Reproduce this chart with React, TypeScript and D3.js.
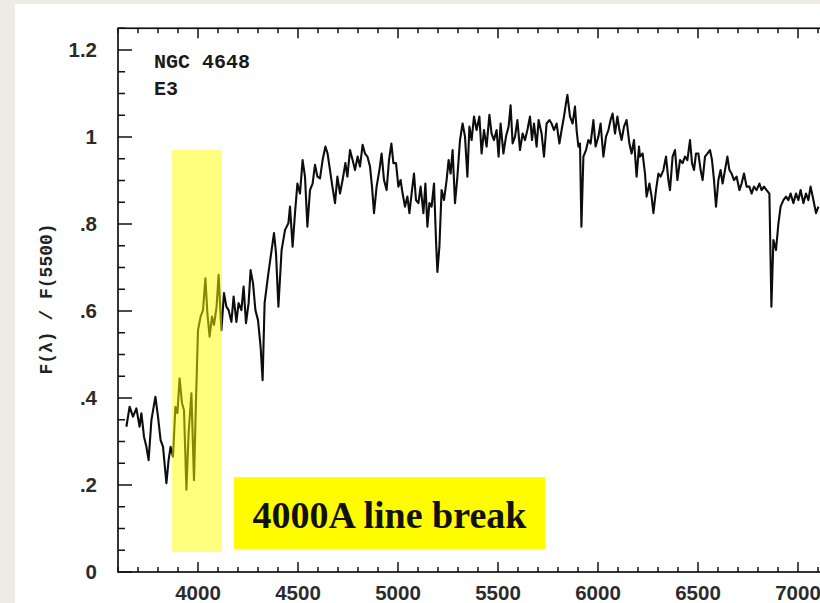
import * as d3 from "d3"

// spectrum of NGC 4648 (E3): wavelength (A) and F(lambda)/F(5500)
const waveA = [3642, 3658, 3675, 3692, 3708, 3717, 3730, 3742, 3753, 3767, 3787, 3800, 3813, 3825, 3842, 3853, 3863, 3875, 3887, 3897, 3908, 3920, 3930, 3942, 3953, 3967, 3980, 3990, 4000, 4013, 4025, 4037, 4047, 4058, 4070, 4080, 4093, 4103, 4117, 4130, 4142, 4153, 4167, 4178, 4192, 4203, 4217, 4228, 4240, 4253, 4263, 4275, 4287, 4300, 4313, 4323, 4333]
const fluxA = [0.334, 0.380, 0.357, 0.376, 0.334, 0.365, 0.311, 0.288, 0.257, 0.349, 0.403, 0.357, 0.303, 0.288, 0.204, 0.257, 0.288, 0.265, 0.380, 0.365, 0.445, 0.388, 0.372, 0.189, 0.319, 0.411, 0.211, 0.395, 0.556, 0.587, 0.602, 0.675, 0.594, 0.541, 0.587, 0.568, 0.610, 0.683, 0.556, 0.641, 0.610, 0.602, 0.575, 0.633, 0.575, 0.618, 0.602, 0.656, 0.572, 0.618, 0.694, 0.664, 0.602, 0.579, 0.518, 0.441, 0.618]

const waveB = [4352, 4368, 4380, 4390, 4402, 4418, 4435, 4452, 4460, 4473, 4485, 4497, 4510, 4523, 4535, 4547, 4560, 4573, 4585, 4597, 4610, 4623, 4637, 4648, 4660, 4672, 4685, 4697, 4710, 4723, 4737, 4747, 4760, 4773, 4785, 4798, 4810, 4823, 4835, 4847, 4860, 4870, 4880, 4893, 4907, 4918, 4930, 4943, 4955, 4967, 4977, 4990, 5002, 5013, 5023, 5035, 5047, 5057, 5068, 5080, 5090, 5102, 5113, 5127, 5137, 5147, 5157, 5168, 5180, 5190, 5197, 5207, 5218, 5230, 5243, 5253, 5263, 5273, 5285, 5297, 5310, 5323, 5335, 5347, 5357]
const fluxB = [0.687, 0.740, 0.779, 0.733, 0.610, 0.740, 0.786, 0.802, 0.840, 0.748, 0.825, 0.893, 0.870, 0.947, 0.909, 0.794, 0.878, 0.893, 0.936, 0.909, 0.905, 0.947, 0.978, 0.962, 0.924, 0.886, 0.848, 0.909, 0.870, 0.901, 0.940, 0.909, 0.970, 0.947, 0.924, 0.955, 0.932, 0.982, 0.962, 0.955, 0.932, 0.886, 0.825, 0.886, 0.924, 0.962, 0.901, 0.878, 0.947, 0.985, 0.940, 0.940, 0.886, 0.901, 0.870, 0.840, 0.863, 0.825, 0.870, 0.916, 0.855, 0.848, 0.886, 0.825, 0.893, 0.794, 0.848, 0.840, 0.893, 0.763, 0.690, 0.748, 0.878, 0.855, 0.901, 0.947, 0.916, 0.970, 0.848, 0.909, 0.993, 1.031, 1.001, 0.909, 1.024]

const waveC = [5368, 5380, 5393, 5407, 5418, 5430, 5443, 5457, 5468, 5480, 5493, 5503, 5513, 5527, 5540, 5553, 5563, 5573, 5585, 5597, 5610, 5623, 5635, 5647, 5660, 5670, 5680, 5693, 5703, 5718, 5730, 5743, 5757, 5768, 5780, 5793, 5807, 5818, 5830, 5840, 5847, 5860, 5873, 5885, 5893, 5902, 5910, 5917, 5927, 5940, 5952, 5963, 5977, 5988, 6002, 6013, 6027, 6040, 6052, 6063, 6073, 6085, 6097, 6107, 6118, 6130, 6143, 6157, 6168, 6180, 6193, 6205]
const fluxC = [0.993, 1.047, 1.016, 1.047, 0.962, 1.016, 0.978, 1.051, 1.008, 0.993, 1.016, 0.955, 1.031, 0.962, 1.001, 1.024, 1.073, 0.985, 1.001, 1.039, 0.970, 1.008, 0.993, 1.016, 1.047, 0.993, 1.031, 0.978, 1.039, 1.008, 0.955, 1.031, 1.039, 1.031, 1.016, 1.031, 0.985, 1.016, 1.047, 1.078, 1.097, 1.047, 1.031, 1.070, 1.016, 0.978, 0.985, 0.794, 0.955, 0.970, 0.993, 0.985, 1.039, 0.978, 1.001, 1.031, 0.955, 1.001, 1.016, 1.039, 1.054, 1.008, 1.047, 1.016, 0.993, 1.024, 1.039, 0.985, 0.962, 0.993, 0.909, 0.978]

const waveD = [6210, 6223, 6235, 6243, 6257, 6268, 6277, 6290, 6302, 6313, 6327, 6340, 6352, 6360, 6373, 6385, 6397, 6410, 6423, 6435, 6447, 6460, 6470, 6480, 6490, 6502, 6513, 6523, 6535, 6547, 6560, 6570, 6580, 6590, 6602, 6613, 6623, 6635, 6647, 6657, 6668, 6680, 6693, 6707, 6718, 6730, 6743, 6757, 6768, 6780, 6793, 6807, 6818, 6830, 6843, 6857, 6867, 6877, 6890, 6902, 6913, 6927, 6940, 6952, 6963, 6977, 6990, 7002, 7013, 7027, 7040, 7052, 7063, 7077, 7090, 7102]
const fluxD = [0.955, 0.962, 0.916, 0.863, 0.893, 0.863, 0.825, 0.878, 0.916, 0.909, 0.924, 0.955, 0.901, 0.878, 0.955, 0.970, 0.901, 0.947, 0.940, 0.955, 0.947, 0.993, 0.940, 0.924, 0.962, 0.962, 0.924, 0.901, 0.955, 0.962, 0.970, 0.947, 0.901, 0.840, 0.901, 0.924, 0.893, 0.924, 0.955, 0.924, 0.916, 0.901, 0.909, 0.878, 0.893, 0.916, 0.886, 0.886, 0.870, 0.886, 0.878, 0.893, 0.878, 0.886, 0.878, 0.870, 0.610, 0.763, 0.740, 0.801, 0.840, 0.855, 0.863, 0.855, 0.870, 0.848, 0.870, 0.855, 0.878, 0.848, 0.870, 0.855, 0.886, 0.855, 0.825, 0.840]

const xTicks = [4000, 4500, 5000, 5500, 6000, 6500, 7000]
const yTicks = [0, 0.2, 0.4, 0.6, 0.8, 1, 1.2]
const yTickLabels = ["0", ".2", ".4", ".6", ".8", "1", "1.2"]

// annotation: 4000A break band and its label box (data units)
const band = { from: 3870, to: 4120, low: 0.046, high: 0.97 }
const labelBox = { from: 4180, to: 5735, low: 0.053, high: 0.218 }

const W = 820
const H = 603

export default function App() {
    const x = d3.scaleLinear().domain([3600, 7200]).range([118, 838])
    const y = d3.scaleLinear().domain([0, 1.25]).range([572, 28.25])

    const wave = [...waveA, ...waveB, ...waveC, ...waveD]
    const flux = [...fluxA, ...fluxB, ...fluxC, ...fluxD]
    const points: [number, number][] = wave.map((w, i) => [w, flux[i]])
    const line = d3.line<[number, number]>().x((d) => x(d[0])).y((d) => y(d[1]))

    const xMinor = d3.range(3600, 7201, 100)
    const yMinor = d3.range(0, 1.26, 0.05)
    const [x0, x1] = x.range()
    const [y0, y1] = y.range()
    const sans = "Liberation Sans, Arial, sans-serif"
    const mono = "Liberation Mono, DejaVu Sans Mono, monospace"

    return (
        <svg width={W} height={H} style={{ position: "absolute", left: 0, top: 0 }}>
            <rect x={0} y={0} width={W} height={H} fill="#eeebe4" />
            <rect x={15} y={4} width={W - 15} height={H - 4} fill="#ffffff" />
            <defs>
                <clipPath id="plot">
                    <rect x={x0} y={y1} width={x1 - x0} height={y0 - y1} />
                </clipPath>
            </defs>

            {/* frame */}
            <rect x={x0} y={y1} width={x1 - x0} height={y0 - y1} fill="none" stroke="#111" strokeWidth={1.7} />

            {xMinor.map((t) => {
                const len = t % 500 === 0 ? 10 : 5
                return (
                    <g key={"xt" + t} stroke="#111" strokeWidth={1.5}>
                        <line x1={x(t)} x2={x(t)} y1={y0} y2={y0 - len} />
                        <line x1={x(t)} x2={x(t)} y1={y1} y2={y1 + len} />
                    </g>
                )
            })}
            {yMinor.map((t, i) => {
                const len = i % 4 === 0 ? 14 : 7
                return <line key={"yt" + i} x1={x0} x2={x0 + len} y1={y(t)} y2={y(t)} stroke="#111" strokeWidth={1.5} />
            })}

            {xTicks.map((t) => (
                <text key={"xl" + t} x={x(t)} y={600} textAnchor="middle" fontFamily={sans}
                    fontWeight="bold" fontSize={20.5} fill="#2b2b2b">{t}</text>
            ))}
            {yTicks.map((t, i) => (
                <text key={"yl" + t} x={97} y={y(t)} dy="0.36em" textAnchor="end" fontFamily={sans}
                    fontWeight="bold" fontSize={20.5} fill="#2b2b2b">{yTickLabels[i]}</text>
            ))}

            <text transform="translate(47,299) rotate(-90)" textAnchor="middle" dominantBaseline="central"
                fontFamily={mono} fontWeight="bold" fontSize={18} fill="#222">F(λ) / F(5500)</text>

            <text x={154} y={68} fontFamily={mono} fontWeight="bold" fontSize={20} fill="#1a1a1a">NGC 4648</text>
            <text x={154} y={95} fontFamily={mono} fontWeight="bold" fontSize={20} fill="#1a1a1a">E3</text>

            <path d={line(points) ?? ""} fill="none" stroke="#0d0d0d" strokeWidth={2.1} strokeLinejoin="round" clipPath="url(#plot)" />

            <rect x={x(band.from)} y={y(band.high)} width={x(band.to) - x(band.from)} height={y(band.low) - y(band.high)}
                fill="#ffff00" opacity={0.5} />

            <rect x={x(labelBox.from)} y={y(labelBox.high)} width={x(labelBox.to) - x(labelBox.from)}
                height={y(labelBox.low) - y(labelBox.high)} fill="#fffc00" />
            <text x={(x(labelBox.from) + x(labelBox.to)) / 2} y={528} textAnchor="middle"
                fontFamily="Liberation Serif, Times New Roman, serif" fontWeight="bold" fontSize={38} fill="#111">4000A line break</text>
        </svg>
    )
}
